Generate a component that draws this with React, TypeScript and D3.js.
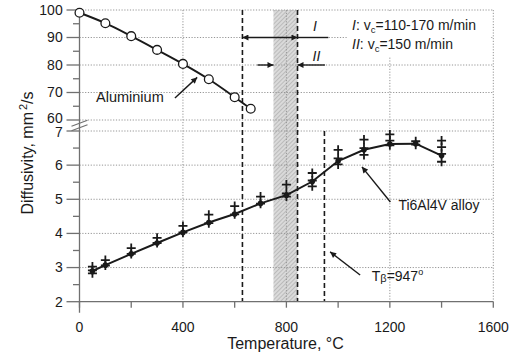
import * as d3 from "d3"

// Aluminium (upper panel, diffusivity 60-100 mm2/s)
const alTemps = [0, 100, 200, 300, 400, 500, 600, 662]
const alValues = [99.0, 95.2, 90.5, 85.5, 80.4, 74.8, 68.3, 64.1]

// Ti6Al4V (lower panel, diffusivity 2-7 mm2/s)
const tiTemps = [50, 100, 200, 300, 400, 500, 600, 700, 800, 900, 1000, 1100, 1200, 1300, 1400]
const tiMean = [2.9, 3.07, 3.4, 3.72, 4.03, 4.32, 4.57, 4.88, 5.12, 5.52, 6.12, 6.45, 6.62, 6.63, 6.28]
const tiMeasured = [
  [3.03, 2.92, 2.83],
  [3.22, 3.06],
  [3.57, 3.4],
  [3.87, 3.72],
  [4.22, 4.03],
  [4.55, 4.3],
  [4.8, 4.56],
  [5.08, 4.87],
  [5.43, 5.17, 5.08],
  [5.77, 5.55, 5.38],
  [6.45, 6.2, 6.02],
  [6.75, 6.5, 6.3],
  [6.9, 6.72, 6.58],
  [6.7, 6.6],
  [6.72, 6.53, 6.33, 6.1],
]

const xTicks = [0, 400, 800, 1200, 1600]
const xMinor = [200, 600, 1000, 1400]
const topTicks = [60, 70, 80, 90, 100]
const topMinor = [65, 75, 85, 95]
const botTicks = [2, 3, 4, 5, 6, 7]
const botMinor = [2.5, 3.5, 4.5, 5.5, 6.5]

// cutting ranges / transition temperatures
const rangeI = [630, 843]
const rangeII = [750, 843]
const tBeta = 947

const FONT = "Liberation Sans, Arial, sans-serif"
const INK = "#1a1a1a"
const GRID = "#959595"
const AXIS = "#707070"

export default function App() {
  const x = d3.scaleLinear().domain([0, 1600]).range([79.5, 493.3])
  const yTop = d3.scaleLinear().domain([60, 100]).range([120, 10])
  const yBot = d3.scaleLinear().domain([2, 7]).range([301.7, 131])

  const x0 = x(0)
  const x1 = x(1600)
  const yT = yTop(100)
  const yB = yBot(2)

  const alLine = d3
    .line<number>()
    .x((_, i) => x(alTemps[i]))
    .y(d => yTop(d))
    .curve(d3.curveMonotoneX)

  const tiLine = d3
    .line<number>()
    .x((_, i) => x(tiTemps[i]))
    .y(d => yBot(d))

  const breakY = (yTop(60) + yBot(7)) / 2

  return (
    <div style={{ position: "absolute", left: 0, top: 0 }}>
      <svg width={520} height={363} style={{ display: "block", background: "#fff" }} fontFamily={FONT}>
        <defs>
          <pattern id="hatch" width="3" height="3" patternUnits="userSpaceOnUse" patternTransform="rotate(45)">
            <rect width="3" height="3" fill="#dadada" />
            <line x1="0" y1="0" x2="0" y2="3" stroke="#a2a2a2" strokeWidth="1.1" />
          </pattern>
          <marker id="arr" viewBox="0 0 10 10" refX="10" refY="5" markerWidth="7" markerHeight="6" orient="auto-start-reverse" markerUnits="userSpaceOnUse">
            <path d="M0,0 L10,5 L0,10 z" fill={INK} />
          </marker>
        </defs>

        {/* shaded range II */}
        <rect x={x(rangeII[0])} y={yT} width={x(rangeII[1]) - x(rangeII[0])} height={yB - yT} fill="url(#hatch)" />

        {/* grid */}
        {topTicks.map(t => (
          <line key={"gt" + t} x1={x0} x2={x1} y1={yTop(t)} y2={yTop(t)} stroke={GRID} strokeWidth={1} strokeDasharray="1.2,1.6" />
        ))}
        {botTicks.filter(t => t > 2).map(t => (
          <line key={"gb" + t} x1={x0} x2={x1} y1={yBot(t)} y2={yBot(t)} stroke={GRID} strokeWidth={1} strokeDasharray="1.2,1.6" />
        ))}
        {xTicks.filter(t => t > 0).map(t => (
          <line key={"gx" + t} x1={x(t)} x2={x(t)} y1={yT} y2={yB} stroke={GRID} strokeWidth={1} strokeDasharray="1.2,1.6" />
        ))}

        {/* legend box */}
        <rect x={x(1034)} y={yTop(99.6)} width={x(1592) - x(1034)} height={yTop(83.2) - yTop(99.6)} fill="#fff" />
        <text x={x(1054)} y={yTop(92.6)} fontSize={14} fill={INK}>
          <tspan fontStyle="italic">I</tspan>
          <tspan>: v</tspan>
          <tspan fontSize={9.5} dy={3}>c</tspan>
          <tspan dy={-3}>=110-170 m/min</tspan>
        </text>
        <text x={x(1054)} y={yTop(86.0)} fontSize={14} fill={INK}>
          <tspan fontStyle="italic">II</tspan>
          <tspan>: v</tspan>
          <tspan fontSize={9.5} dy={3}>c</tspan>
          <tspan dy={-3}>=150 m/min</tspan>
        </text>

        {/* dashed range boundaries */}
        {rangeI.map(t => (
          <line key={"d" + t} x1={x(t)} x2={x(t)} y1={yT} y2={yB} stroke={INK} strokeWidth={1.6} strokeDasharray="5,3" />
        ))}
        <line x1={x(tBeta)} x2={x(tBeta)} y1={yBot(7)} y2={yB} stroke={INK} strokeWidth={1.6} strokeDasharray="5,3" />

        {/* axes */}
        <line x1={x0} x2={x0} y1={yT} y2={yB + 11} stroke={AXIS} strokeWidth={1.3} />
        <line x1={x0} x2={x1} y1={yB} y2={yB} stroke={AXIS} strokeWidth={1.3} />
        {topTicks.map(t => (
          <g key={"tt" + t}>
            <line x1={x0 - 13} x2={x0} y1={yTop(t)} y2={yTop(t)} stroke={AXIS} strokeWidth={1.3} />
            <text x={62.7} y={yTop(t) - (t === 60 ? 2 : 0)} dy="0.35em" textAnchor="end" fontSize={14} fill={INK}>{t}</text>
          </g>
        ))}
        {topMinor.map(t => (
          <line key={"tm" + t} x1={x0 - 6.5} x2={x0} y1={yTop(t)} y2={yTop(t)} stroke={AXIS} strokeWidth={1.3} />
        ))}
        {botTicks.map(t => (
          <g key={"bt" + t}>
            <line x1={x0 - 13} x2={x0} y1={yBot(t)} y2={yBot(t)} stroke={AXIS} strokeWidth={1.3} />
            <text x={62.7} y={yBot(t) + (t === 7 ? 1.5 : 0)} dy="0.35em" textAnchor="end" fontSize={14} fill={INK}>{t}</text>
          </g>
        ))}
        {botMinor.map(t => (
          <line key={"bm" + t} x1={x0 - 6.5} x2={x0} y1={yBot(t)} y2={yBot(t)} stroke={AXIS} strokeWidth={1.3} />
        ))}
        {xTicks.map(t => (
          <g key={"xt" + t}>
            <line x1={x(t)} x2={x(t)} y1={yB} y2={yB + 6} stroke={AXIS} strokeWidth={1.3} />
            <text x={x(t)} y={332} textAnchor="middle" fontSize={14} fill={INK}>{t}</text>
          </g>
        ))}
        {xMinor.map(t => (
          <line key={"xm" + t} x1={x(t)} x2={x(t)} y1={yB} y2={yB + 6} stroke={AXIS} strokeWidth={1.3} />
        ))}

        {/* axis break */}
        {[-2.2, 2.2].map(o => (
          <line key={"br" + o} x1={x0 - 8} y1={breakY + o + 3} x2={x0 + 8} y2={breakY + o - 3} stroke={AXIS} strokeWidth={1.2} />
        ))}

        {/* axis titles */}
        <text x={285.5} y={349} textAnchor="middle" fontSize={16} fill={INK}>Temperature, °C</text>
        <text transform="translate(33,153) rotate(-90)" textAnchor="middle" fontSize={16} fill={INK}>
          <tspan>Diffusivity, mm</tspan>
          <tspan fontSize={11} dx={2} dy={-6}>2</tspan>
          <tspan dy={6}>/s</tspan>
        </text>

        {/* aluminium */}
        <path d={alLine(alValues) || ""} fill="none" stroke={INK} strokeWidth={1.9} />
        {alValues.map((v, i) => (
          <circle key={"al" + i} cx={x(alTemps[i])} cy={yTop(v)} r={4.4} fill="#fff" stroke={INK} strokeWidth={1.3} />
        ))}

        {/* Ti6Al4V */}
        <path d={tiLine(tiMean) || ""} fill="none" stroke={INK} strokeWidth={2} />
        {tiMean.map((v, i) => (
          <circle key={"tm" + i} cx={x(tiTemps[i])} cy={yBot(v)} r={2.8} fill={INK} />
        ))}
        {tiMeasured.map((vals, i) =>
          vals.map((v, j) => (
            <path
              key={"tp" + i + "-" + j}
              d={`M${x(tiTemps[i]) - 4.5},${yBot(v)}H${x(tiTemps[i]) + 4.5}M${x(tiTemps[i])},${yBot(v) - 4.5}V${yBot(v) + 4.5}`}
              stroke={INK}
              strokeWidth={1.8}
              fill="none"
            />
          ))
        )}

        {/* range arrows */}
        <line x1={x(rangeI[0])} x2={x(rangeI[1])} y1={yTop(90)} y2={yTop(90)} stroke={INK} strokeWidth={1.4} markerStart="url(#arr)" markerEnd="url(#arr)" />
        <line x1={x(rangeI[1])} x2={x(962)} y1={yTop(90)} y2={yTop(90)} stroke={INK} strokeWidth={1.4} />
        <text x={x(903)} y={yTop(92.5)} fontSize={14} fontStyle="italic" fill={INK}>I</text>
        <line x1={x(688)} x2={x(rangeII[0])} y1={yTop(80)} y2={yTop(80)} stroke={INK} strokeWidth={1.4} markerEnd="url(#arr)" />
        <line x1={x(949)} x2={x(rangeII[1])} y1={yTop(80)} y2={yTop(80)} stroke={INK} strokeWidth={1.4} markerEnd="url(#arr)" />
        <text x={x(901)} y={yTop(81.5)} fontSize={14} fontStyle="italic" fill={INK}>II</text>

        {/* labels with pointers */}
        <text x={x(64)} y={yTop(66.6)} fontSize={14.5} fill={INK}>Aluminium</text>
        <line x1={x(369)} y1={yTop(68)} x2={x(455)} y2={yTop(75.5)} stroke={INK} strokeWidth={1.4} markerEnd="url(#arr)" />

        <text x={x(1233)} y={yBot(4.69)} fontSize={14} fill={INK}>Ti6Al4V alloy</text>
        <line x1={x(1202)} y1={yBot(4.92)} x2={x(1092)} y2={yBot(5.95)} stroke={INK} strokeWidth={1.4} markerEnd="url(#arr)" />

        <text x={x(1130)} y={yBot(2.6)} fontSize={14} fill={INK}>
          <tspan>T</tspan>
          <tspan fontSize={11} dy={1}>β</tspan>
          <tspan dy={-1}>=947</tspan>
          <tspan fontSize={9} dy={-6}>o</tspan>
        </text>
        <line x1={x(1085)} y1={yBot(2.78)} x2={x(969)} y2={yBot(3.46)} stroke={INK} strokeWidth={1.4} markerEnd="url(#arr)" />
      </svg>
    </div>
  )
}
